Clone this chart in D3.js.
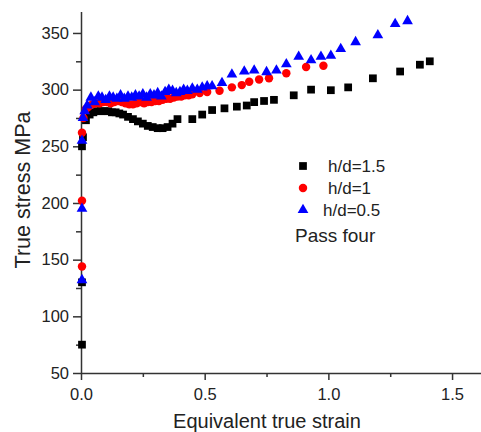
<!DOCTYPE html>
<html lang="en">
<head>
  <meta charset="UTF-8">
  <title>True stress vs strain</title>
  <script src="https://d3js.org/d3.v7.min.js"></script>
  <style>
    body { margin: 0; background: #fff; }
    svg text { font-family: "Liberation Sans", Arial, sans-serif; fill: #222; }
  </style>
</head>
<body>
  <svg id="chart"></svg>
  <script>
  // h/d = 1.5 (black squares)
  const strainBlack = [0.004, 0.004, 0.004, 0.008, 0.02, 0.035, 0.05, 0.065, 0.08, 0.095, 0.11, 0.125, 0.14, 0.155, 0.17,
    0.19, 0.21, 0.23, 0.25, 0.27, 0.29, 0.31, 0.33, 0.35, 0.37, 0.39, 0.45, 0.49, 0.53, 0.58, 0.63, 0.67, 0.70, 0.74,
    0.78, 0.86, 0.93, 1.01, 1.08, 1.18, 1.29, 1.37, 1.41];
  const stressBlack = [75, 130, 250, 258, 273, 278, 280, 281, 281, 281, 281, 280, 280, 279, 278,
    276, 274, 272, 270, 268, 267, 266, 266, 267, 270, 274, 274, 278, 282, 283.5, 285, 286, 289, 290,
    291, 295, 300, 299.5, 302, 310, 316, 322, 325];

  // h/d = 1 (red circles)
  const strainRed = [0.004, 0.004, 0.004, 0.01, 0.02, 0.03, 0.045, 0.06, 0.075, 0.09, 0.105, 0.12, 0.135, 0.15, 0.165,
    0.18, 0.195, 0.21, 0.225, 0.24, 0.255, 0.27, 0.285, 0.30, 0.315, 0.33, 0.345, 0.36, 0.375, 0.39, 0.405, 0.42,
    0.435, 0.45, 0.48, 0.51, 0.56, 0.61, 0.65, 0.68, 0.72, 0.76, 0.83, 0.91, 0.98];
  const stressRed = [144, 202, 262, 275, 283, 285, 287, 288, 288, 289, 289, 288, 289, 290, 289,
    288, 287, 287, 288, 289, 288, 289, 289, 290, 290, 291, 292, 292, 293, 294, 294, 295,
    295, 296, 297, 298, 299, 302, 304, 307, 309, 310, 314.5, 320, 321];

  // h/d = 0.5 (blue triangles)
  const strainBlue = [0.004, 0.004, 0.004, 0.008, 0.015, 0.025, 0.04, 0.055, 0.07, 0.085, 0.10, 0.115, 0.13, 0.145,
    0.16, 0.175, 0.19, 0.205, 0.22, 0.235, 0.25, 0.265, 0.28, 0.295, 0.31, 0.325, 0.34, 0.355, 0.37, 0.385, 0.40,
    0.415, 0.43, 0.45, 0.47, 0.49, 0.51, 0.53, 0.57, 0.61, 0.66, 0.70, 0.75, 0.79, 0.83, 0.88, 0.93, 0.97, 1.01,
    1.05, 1.11, 1.20, 1.27, 1.32];
  const stressBlue = [132, 195, 255, 275, 281, 286, 293, 289, 294, 293, 291, 294, 293, 292,
    295, 292, 294, 293, 295, 294, 296, 293, 296, 295, 297, 294, 298, 300, 299, 297, 298,
    300, 299, 301, 300, 302, 303, 303, 306, 313.5, 316, 317, 315.5, 317, 322.5, 329, 326, 329, 330,
    336, 342, 348, 358, 360.5];

  const seriesNames = ["h/d=1.5", "h/d=1", "h/d=0.5"];
  const seriesColors = ["#000000", "#ff0000", "#0000ff"];
  const xTicks = [0, 0.5, 1.0, 1.5];
  const yTicks = [50, 100, 150, 200, 250, 300, 350];

  const width = 481, height = 432;
  const svg = d3.select("#chart").attr("width", width).attr("height", height);

  const x = d3.scaleLinear().domain([0, 1.617]).range([81, 481]);
  const y = d3.scaleLinear().domain([50, 368.5]).range([373, 12]);

  const axisColor = "#333";

  // minor ticks
  const xMinor = [0.25, 0.75, 1.25];
  const yMinor = [75, 125, 175, 225, 275, 325];

  const gx = svg.append("g").attr("transform", "translate(0,373)")
    .call(d3.axisBottom(x).tickValues(xTicks).tickFormat(d3.format(".1f")).tickSize(7).tickPadding(8));
  svg.append("g").attr("transform", "translate(0,373)")
    .call(d3.axisBottom(x).tickValues(xMinor).tickFormat("").tickSize(4))
    .select(".domain").remove();

  const gy = svg.append("g").attr("transform", "translate(81,0)")
    .call(d3.axisLeft(y).tickValues(yTicks).tickSize(8).tickPadding(4));
  svg.append("g").attr("transform", "translate(81,0)")
    .call(d3.axisLeft(y).tickValues(yMinor).tickFormat("").tickSize(5))
    .select(".domain").remove();

  svg.selectAll(".domain, .tick line").attr("stroke", axisColor).attr("stroke-width", 1.5);
  gx.select(".domain").attr("d", "M81,0.5H481");
  gy.select(".domain").attr("d", "M0.5,373V12");
  svg.selectAll(".tick text").style("font-size", "16.5px").attr("fill", "#222");

  // axis titles
  svg.append("text")
    .attr("x", 267).attr("y", 428)
    .attr("text-anchor", "middle")
    .style("font-size", "20px")
    .text("Equivalent true strain");
  svg.append("text")
    .attr("transform", "translate(30,190) rotate(-90)")
    .attr("text-anchor", "middle")
    .style("font-size", "21.5px")
    .text("True stress MPa");

  // data
  const shapes = [d3.symbolSquare, d3.symbolCircle, d3.symbolTriangle];
  const sizes = [60, 56, 50];
  const allX = [strainBlack, strainRed, strainBlue];
  const allY = [stressBlack, stressRed, stressBlue];

  allX.forEach(function(xs, i) {
    const pts = xs.map(function(d, j) { return [d, allY[i][j]]; });
    svg.append("g").selectAll("path")
      .data(pts)
      .enter()
      .append("path")
      .attr("d", d3.symbol().type(shapes[i]).size(sizes[i]))
      .attr("transform", function(d) { return "translate(" + x(d[0]) + "," + y(d[1]) + ")"; })
      .attr("fill", seriesColors[i]);
  });

  // legend
  const legend = svg.append("g");
  seriesNames.forEach(function(name, i) {
    const ly = 166 + i * 22;
    legend.append("path")
      .attr("d", d3.symbol().type(shapes[i]).size(sizes[i]))
      .attr("transform", "translate(303," + ly + ")")
      .attr("fill", seriesColors[i]);
    legend.append("text")
      .attr("x", i == 2 ? 323 : 328).attr("y", ly + 6)
      .style("font-size", "17px")
      .text(name);
  });
  legend.append("text")
    .attr("x", 295).attr("y", 242)
    .style("font-size", "19px")
    .text("Pass four");
  </script>
</body>
</html>
